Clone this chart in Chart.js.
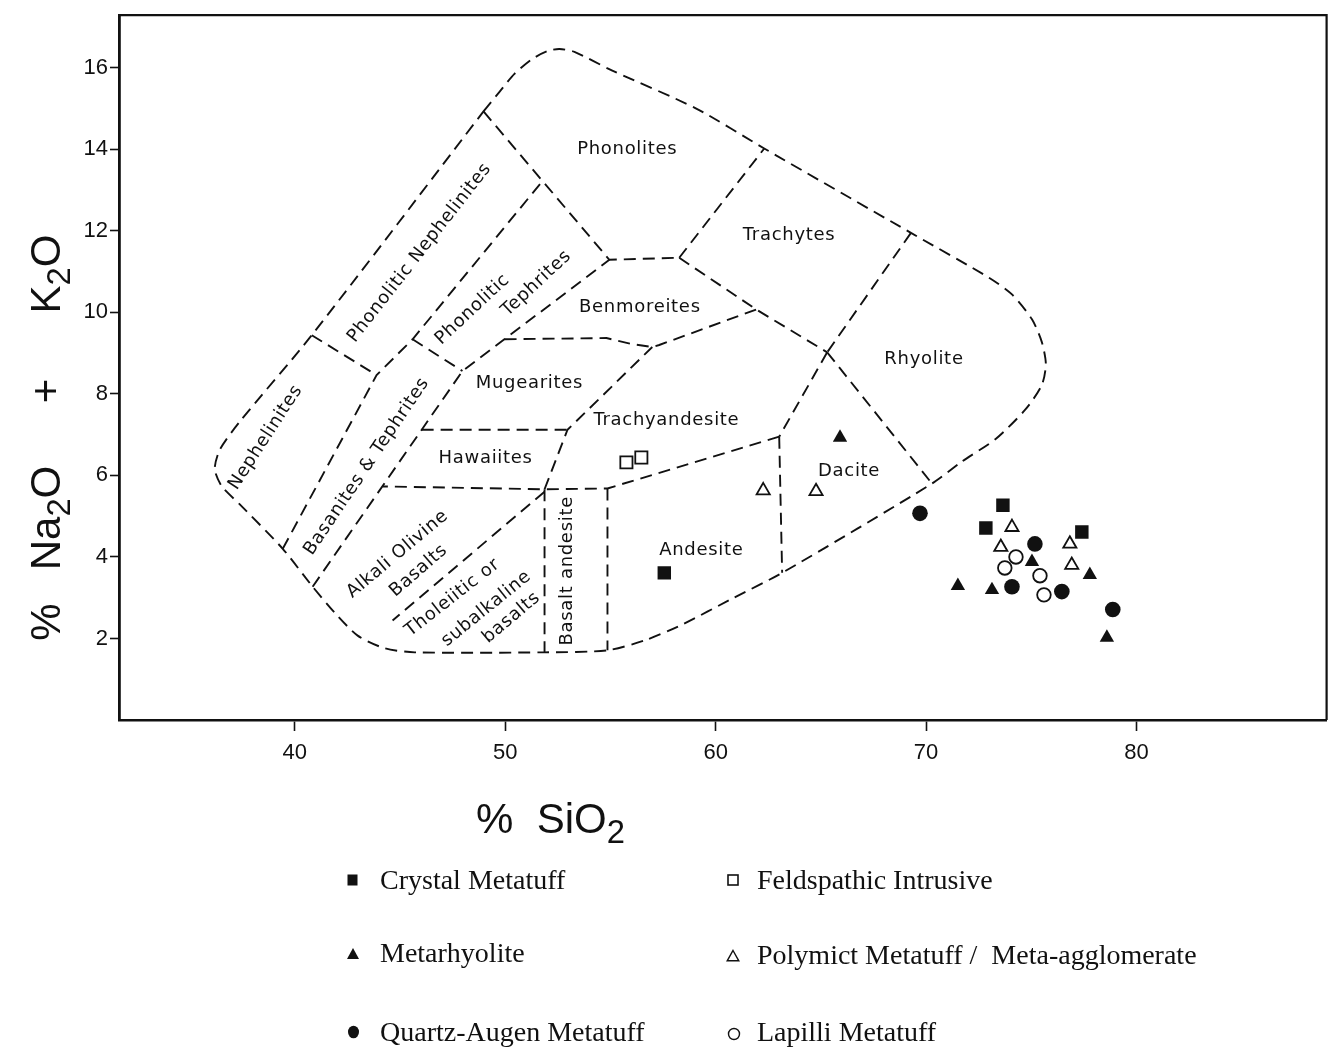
<!DOCTYPE html>
<html>
<head>
<meta charset="utf-8">
<title>Total alkali – silica classification</title>
<script src="https://cdn.jsdelivr.net/npm/chart.js@4.4.1/dist/chart.umd.min.js"></script>
<style>
  html, body { margin: 0; padding: 0; background: #fff; }
  #wrap { position: relative; width: 1337px; height: 1052px; overflow: hidden; }
  #wrap canvas { position: absolute; left: 0; top: 0; }
  .ttl { position: absolute; font-family: "Liberation Sans", Arial, sans-serif; font-size: 42px;
         color: #111; white-space: nowrap; line-height: 1; }
  .rot { transform: translate(-50%, -50%) rotate(-90deg); }
  .sub { font-size: 0.78em; position: relative; top: 0.32em; }
  .leg { position: absolute; font-family: "Liberation Serif", "Times New Roman", serif;
         font-size: 28px; line-height: 28px; color: #111; white-space: nowrap; }
  .mk { position: absolute; }
</style>
</head>
<body>
<div id="wrap">
  <canvas id="tas"></canvas>

  <div class="ttl rot" style="left:46px; top:622px;">%</div>
  <div class="ttl rot" style="left:46px; top:518px;">Na<span class="sub">2</span>O</div>
  <div class="ttl rot" style="left:46px; top:391px;">+</div>
  <div class="ttl rot" style="left:46px; top:274px;">K<span class="sub">2</span>O</div>

  <div class="ttl" style="left:476px; top:798px;">%&nbsp;&nbsp;SiO<span class="sub">2</span></div>

  <svg class="mk" style="left:347px; top:874px;" width="12" height="12"><rect x="0.5" y="0.5" width="10" height="11" fill="#111"/></svg>
  <div class="leg" style="left:380px; top:866px;">Crystal Metatuff</div>
  <svg class="mk" style="left:727px; top:874px;" width="13" height="13"><rect x="1" y="1" width="10" height="10" fill="#fff" stroke="#111" stroke-width="1.6"/></svg>
  <div class="leg" style="left:757px; top:866px;">Feldspathic Intrusive</div>

  <svg class="mk" style="left:346px; top:947px;" width="14" height="13"><polygon points="7,1 13,12 1,12" fill="#111"/></svg>
  <div class="leg" style="left:380px; top:939px;">Metarhyolite</div>
  <svg class="mk" style="left:726px; top:949px;" width="14" height="13"><polygon points="7,1.5 12.8,11.8 1.2,11.8" fill="#fff" stroke="#111" stroke-width="1.4"/></svg>
  <div class="leg" style="left:757px; top:941px;">Polymict Metatuff /&nbsp; Meta-agglomerate</div>

  <svg class="mk" style="left:347px; top:1025px;" width="13" height="14"><ellipse cx="6.5" cy="7" rx="5.5" ry="6.3" fill="#111"/></svg>
  <div class="leg" style="left:380px; top:1018px;">Quartz-Augen Metatuff</div>
  <svg class="mk" style="left:727px; top:1027px;" width="14" height="14"><circle cx="7" cy="7" r="5.5" fill="#fff" stroke="#111" stroke-width="1.4"/></svg>
  <div class="leg" style="left:757px; top:1018px;">Lapilli Metatuff</div>
</div>

<script>
// ---- axis ticks -------------------------------------------------------
const xTicks = [40, 50, 60, 70, 80];
const yTicks = [2, 4, 6, 8, 10, 12, 14, 16];

// ---- analyses: [SiO2 %, Na2O + K2O %] ---------------------------------
const crystalMetatuff      = [[57.56, 3.61], [73.65, 5.27], [72.84, 4.71], [77.40, 4.61]];
const feldspathicIntrusive = [[55.76, 6.32], [56.47, 6.44]];
const metarhyolite         = [[65.91, 6.93], [71.51, 3.29], [73.13, 3.19], [75.03, 3.88], [77.78, 3.56], [78.59, 2.02]];
const polymictMetatuff     = [[62.26, 5.63], [64.77, 5.61], [74.08, 4.73], [73.55, 4.24], [76.83, 4.32], [76.92, 3.80]];
const quartzAugenMetatuff  = [[69.71, 5.07], [75.17, 4.32], [74.08, 3.27], [76.45, 3.15], [78.87, 2.71]];
const lapilliMetatuff      = [[74.27, 4.00], [73.74, 3.73], [75.41, 3.54], [75.60, 3.07]];

// ---- field boundaries of the classification grid ----------------------
const envelope = [
  [48.97, 14.93], [49.73, 15.41], [50.44, 15.85], [51.30, 16.22], [52.01, 16.41], [52.58, 16.46],
  [53.29, 16.39], [55.09, 15.93], [59.08, 15.00], [62.31, 14.02], [69.28, 11.95], [72.99, 10.85],
  [74.08, 10.44], [75.03, 9.83], [75.50, 9.27], [75.69, 8.73], [75.50, 8.22], [74.74, 7.63],
  [73.32, 6.90], [71.70, 6.34], [70.28, 5.80], [63.16, 3.61], [60.79, 2.98], [58.41, 2.34],
  [56.61, 1.95], [54.86, 1.71], [51.87, 1.66], [45.70, 1.66], [44.27, 1.76], [42.99, 2.07],
  [41.90, 2.63], [40.85, 3.27], [39.43, 4.20], [37.39, 5.29], [36.54, 5.73], [36.20, 6.15],
  [36.44, 6.63], [37.39, 7.32], [40.81, 9.44], [48.97, 14.93]
];
const boundaries = [
  [[40.81, 9.44], [43.89, 8.46]],                                   // nephelinite / phonolitic nephelinite
  [[39.43, 4.20], [43.89, 8.46], [45.60, 9.34], [51.77, 13.22]],    // nephelinite / basanite, phon. nephelinite / phon. tephrite
  [[45.60, 9.34], [47.97, 8.56]],                                   // basanite & tephrite / phonolitic tephrite
  [[40.85, 3.27], [47.97, 8.56], [54.95, 11.29]],                   // basanite / alkali basalt line
  [[48.97, 14.93], [54.95, 11.29], [58.27, 11.34]],                 // phonolite base
  [[58.27, 11.34], [62.31, 14.02]],                                 // phonolite / trachyte
  [[58.27, 11.34], [61.93, 10.07], [65.30, 9.02]],                  // trachyte base
  [[69.28, 11.95], [65.30, 9.02]],                                  // trachyte / rhyolite
  [[65.30, 9.02], [70.28, 5.80]],                                   // rhyolite / dacite
  [[65.30, 9.02], [63.02, 6.95]],                                   // dacite / trachyandesite
  [[63.02, 6.95], [63.16, 3.61]],                                   // andesite / dacite
  [[63.02, 6.95], [54.86, 5.68], [51.87, 5.66], [44.18, 5.73]],     // andesite top, hawaiite base
  [[46.03, 7.12], [52.96, 7.12]],                                   // hawaiite / mugearite
  [[51.87, 5.66], [52.96, 7.12], [56.99, 9.15]],                    // hawaiite, mugearite / trachyandesite
  [[49.97, 9.34], [54.81, 9.37], [56.04, 9.22], [56.99, 9.15], [57.32, 9.20], [61.93, 10.07]], // benmoreite base
  [[51.87, 5.66], [51.87, 1.66]],                                   // basalt / basaltic andesite
  [[54.86, 5.68], [54.86, 1.71]],                                   // basaltic andesite / andesite
  [[51.87, 5.60], [44.65, 2.44]]                                    // alkali olivine / tholeiitic basalt
];

// ---- field names (anchor in SiO2 / alkali units, rotation in degrees) --
const fieldLabels = [
  { text: 'Phonolites',              at: [55.80, 14.00], angle: 0 },
  { text: 'Trachytes',               at: [63.49, 11.88], angle: 0 },
  { text: 'Benmoreites',             at: [56.40, 10.12], angle: 0 },
  { text: 'Rhyolite',                at: [69.90, 8.85],  angle: 0 },
  { text: 'Mugearites',              at: [51.15, 8.27],  angle: 0 },
  { text: 'Trachyandesite',          at: [57.66, 7.34],  angle: 0 },
  { text: 'Hawaiites',               at: [49.07, 6.41],  angle: 0 },
  { text: 'Dacite',                  at: [66.34, 6.10],  angle: 0 },
  { text: 'Andesite',                at: [59.32, 4.17],  angle: 0 },
  { text: 'Nephelinites',            at: [38.62, 6.93],  angle: -57 },
  { text: 'Phonolitic Nephelinites', at: [45.93, 11.46], angle: -52 },
  { text: 'Phonolitic',              at: [48.45, 10.07], angle: -43 },
  { text: 'Tephrites',               at: [51.49, 10.71], angle: -43 },
  { text: 'Basanites & Tephrites',   at: [43.42, 6.22],  angle: -56 },
  { text: 'Alkali Olivine',          at: [44.89, 4.07],  angle: -40 },
  { text: 'Basalts',                 at: [45.89, 3.66],  angle: -41 },
  { text: 'Tholeiitic or',           at: [47.50, 3.00],  angle: -38 },
  { text: 'subalkaline',             at: [49.11, 2.73],  angle: -39 },
  { text: 'basalts',                 at: [50.30, 2.51],  angle: -40 },
  { text: 'Basalt andesite',         at: [52.96, 3.66],  angle: -90 }
];

const toXY = pts => pts.map(([x, y]) => ({ x, y }));
const INK = '#111';

function markers(label, pts, style, filled, radius) {
  return {
    label, data: toXY(pts), showLine: false, order: 0,
    pointStyle: style, pointRadius: radius, pointHoverRadius: radius,
    pointBackgroundColor: filled ? INK : '#fff',
    pointBorderColor: INK, pointBorderWidth: filled ? 0 : 1.8
  };
}
function dashed(pts, tension) {
  return {
    label: '', data: toXY(pts), showLine: true, order: 1, tension: tension || 0,
    borderColor: INK, borderWidth: 1.9, borderDash: [12, 7],
    pointRadius: 0, pointHoverRadius: 0, fill: false
  };
}

const datasets = [
  markers('Crystal Metatuff', crystalMetatuff, 'rect', true, 9.5),
  markers('Feldspathic Intrusive', feldspathicIntrusive, 'rect', false, 8.6),
  markers('Metarhyolite', metarhyolite, 'triangle', true, 8.3),
  markers('Polymict Metatuff / Meta-agglomerate', polymictMetatuff, 'triangle', false, 7.6),
  markers('Quartz-Augen Metatuff', quartzAugenMetatuff, 'circle', true, 7.8),
  markers('Lapilli Metatuff', lapilliMetatuff, 'circle', false, 6.8),
  dashed(envelope, 0.25),
  ...boundaries.map(b => dashed(b, 0))
];

// field names written along the grid
const fieldNames = {
  id: 'fieldNames',
  beforeDatasetsDraw(chart) {
    const { ctx, scales: { x, y } } = chart;
    ctx.save();
    ctx.fillStyle = INK;
    ctx.font = '18px "DejaVu Sans", sans-serif';
    ctx.textAlign = 'center';
    ctx.textBaseline = 'middle';
    if ('letterSpacing' in ctx) ctx.letterSpacing = '0.7px';
    fieldLabels.forEach(l => {
      ctx.save();
      ctx.translate(x.getPixelForValue(l.at[0]), y.getPixelForValue(l.at[1]));
      ctx.rotate(l.angle * Math.PI / 180);
      ctx.fillText(l.text, 0, 0);
      ctx.restore();
    });
    ctx.restore();
  }
};

// closes the plot frame along the top and right edges
const frame = {
  id: 'frame',
  afterDraw(chart) {
    const { ctx, chartArea: a } = chart;
    ctx.save();
    ctx.strokeStyle = INK;
    ctx.lineWidth = 2.2;
    ctx.beginPath();
    ctx.moveTo(a.left, a.top);
    ctx.lineTo(a.right, a.top);
    ctx.lineTo(a.right, a.bottom);
    ctx.stroke();
    ctx.restore();
  }
};

const tickFont = { family: '"Liberation Sans", Arial, sans-serif', size: 22 };

new Chart(document.getElementById('tas'), {
  type: 'scatter',
  data: { datasets },
  options: {
    responsive: true,
    maintainAspectRatio: false,
    animation: false,
    events: [],
    layout: { padding: { left: 0, top: 11, right: 9, bottom: 292 } },
    plugins: { legend: { display: false }, tooltip: { enabled: false } },
    scales: {
      x: {
        type: 'linear', min: 31.65, max: 89.03,
        afterBuildTicks: s => { s.ticks = xTicks.map(v => ({ value: v })); },
        afterFit: s => { s.height = 40; },
        grid: { display: true, drawOnChartArea: false, drawTicks: true, tickLength: 11, tickColor: INK, tickWidth: 1.6 },
        border: { display: true, color: INK, width: 2.6 },
        ticks: { color: INK, font: tickFont, padding: 9, maxRotation: 0, autoSkip: false }
      },
      y: {
        type: 'linear', min: 0, max: 17.29,
        afterBuildTicks: s => { s.ticks = yTicks.map(v => ({ value: v })); },
        afterFit: s => { s.width = 119; },
        grid: { display: true, drawOnChartArea: false, drawTicks: true, tickLength: 9, tickColor: INK, tickWidth: 1.6 },
        border: { display: true, color: INK, width: 2.8 },
        ticks: { color: INK, font: tickFont, padding: 2, autoSkip: false }
      }
    }
  },
  plugins: [fieldNames, frame]
});
</script>
</body>
</html>
